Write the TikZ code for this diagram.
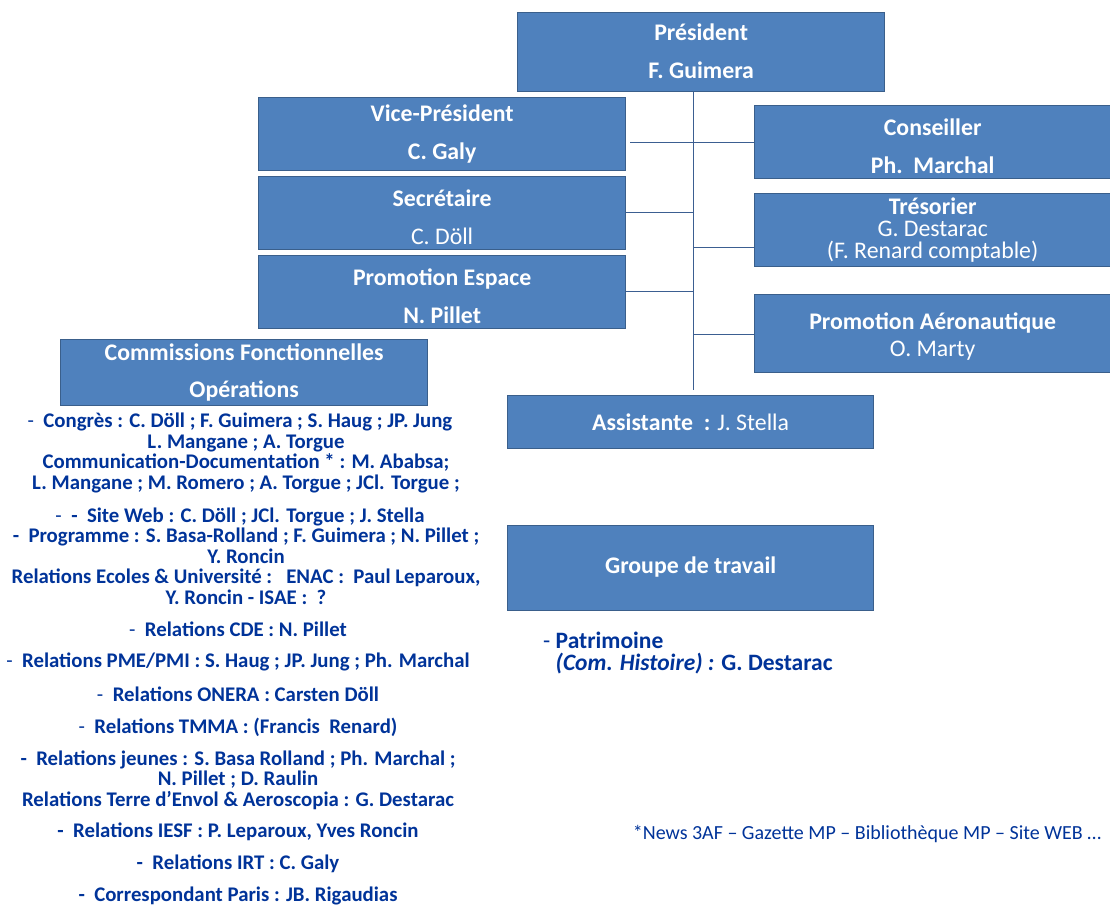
\documentclass[tikz,border=0pt]{standalone}
\usepackage{fontspec}
\setmainfont{Carlito}
\definecolor{boxfill}{HTML}{4F81BD}
\definecolor{boxborder}{HTML}{3A5F8B}
\definecolor{conncol}{HTML}{3B5E91}
\definecolor{txtblue}{HTML}{003399}
\begin{document}
\begin{tikzpicture}[x=1pt,y=-1pt]
\tikzset{
  box/.style={draw=boxborder, line width=1.3pt, fill=boxfill, inner sep=0pt, anchor=north west},
  boxtext/.style={text=white, align=center, inner sep=0pt, font=\fontsize{23.8}{38}\selectfont},
  conn/.style={draw=conncol, line width=1pt},
  listtext/.style={text=txtblue, align=center, inner sep=0pt, font=\fontsize{20.8}{20.5}\selectfont\bfseries},
  foot/.style={text=txtblue, inner sep=0pt, font=\fontsize{20}{21}\selectfont}
}
\useasboundingbox (0,0) rectangle (1110,905);

% boxes
\node[box, minimum width=367pt, minimum height=79pt] (pres) at (517,12) {};
\node[box, minimum width=367pt, minimum height=73pt] (vice) at (258,97) {};
\node[box, minimum width=367pt, minimum height=73pt] (sec) at (258,176) {};
\node[box, minimum width=367pt, minimum height=73pt] (pesp) at (258,255) {};
\node[box, minimum width=356pt, minimum height=73pt] (cons) at (754,105) {};
\node[box, minimum width=356pt, minimum height=73pt] (tres) at (754,193) {};
\node[box, minimum width=356pt, minimum height=78pt] (paero) at (754,294) {};
\node[box, minimum width=367pt, minimum height=66pt] (comm) at (60,339) {};
\node[box, minimum width=366pt, minimum height=53pt] (assist) at (507,395) {};
\node[box, minimum width=366pt, minimum height=85pt] (groupe) at (507,525) {};

% box texts
\node[boxtext] (presT) at ([yshift=1pt]pres.center) {\textbf{Président}\\\textbf{F. Guimera}};
\node[boxtext] (viceT) at (vice.center) {\textbf{Vice-Président}\\\textbf{C. Galy}};
\node[boxtext] (secT) at ([yshift=-4pt]sec.center) {\textbf{Secrétaire}\\C. Döll};
\node[boxtext] (pespT) at ([yshift=-4.5pt]pesp.center) {\textbf{Promotion Espace}\\\textbf{N. Pillet}};
\node[boxtext] (consT) at ([yshift=-4pt]cons.center) {\textbf{Conseiller}\\\textbf{Ph.\ \ Marchal}};
\node[boxtext, font=\fontsize{23.8}{22}\selectfont] (tresT) at (tres.center) {\textbf{Trésorier}\\G. Destarac\\(F. Renard comptable)};
\node[boxtext, font=\fontsize{23.8}{27}\selectfont] (paeroT) at ([yshift=-3pt]paero.center) {\textbf{Promotion Aéronautique}\\O. Marty};
\node[boxtext, font=\fontsize{23.8}{37}\selectfont] (commT) at (comm.center) {\textbf{Commissions Fonctionnelles}\\\textbf{Opérations}};
\node[boxtext] (assistT) at (assist.center) {\textbf{Assistante\ \ :} J. Stella};
\node[boxtext] (groupeT) at ([yshift=1pt]groupe.center) {\textbf{Groupe de travail}};

% connectors
\coordinate (tBot) at (693,390);
\coordinate (vcStart) at (630,142);
\coordinate (jSec) at (693,212);
\coordinate (jPesp) at (693,291);
\coordinate (jTres) at (693,247);
\coordinate (jAero) at (693,334);
\draw[conn] (pres.south -| tBot) -- (tBot);
\draw[conn] (vcStart) -- (vcStart -| cons.west);
\draw[conn] (sec.east |- jSec) -- (jSec);
\draw[conn] (pesp.east |- jPesp) -- (jPesp);
\draw[conn] (jTres) -- (jTres -| tres.west);
\draw[conn] (jAero) -- (jAero -| paero.west);

% left list
\node[listtext] (l1) at (246,453) {{\mdseries -}\ \ Congrès : C. Döll ; F. Guimera ; S. Haug ; JP. Jung\hspace*{12pt}\\L. Mangane ; A. Torgue\\Communication-Documentation * : M. Ababsa;\\L. Mangane ; M. Romero ; A. Torgue ; JCl. Torgue ;};
\node[listtext] (l2) at (246,556) {{\mdseries -}\ \ -\ \ Site Web : C. Döll ; JCl. Torgue ; J. Stella\hspace*{12pt}\\-\ \ Programme : S. Basa-Rolland ; F. Guimera ; N. Pillet ;\\Y. Roncin\\Relations Ecoles \& Université :\ \ \ ENAC :\ \ Paul Leparoux,\\Y. Roncin - ISAE :\ \ ?};
\node[listtext] (l3) at (238,629) {{\mdseries -}\ \ Relations CDE : N. Pillet};
\node[listtext] (l4) at (238,662) {{\mdseries -}\ \ Relations PME/PMI : S. Haug ; JP. Jung ; Ph. Marchal};
\node[listtext] (l5) at (238,694) {{\mdseries -}\ \ Relations ONERA : Carsten Döll};
\node[listtext] (l6) at (238,727) {{\mdseries -}\ \ Relations TMMA : (Francis\ \ Renard)};
\node[listtext] (l7) at (238,780) {-\ \ Relations jeunes : S. Basa Rolland ; Ph. Marchal ;\\N. Pillet ; D. Raulin\\Relations Terre d’Envol \& Aeroscopia : G. Destarac};
\node[listtext] (l8) at (238,832) {-\ \ Relations IESF : P. Leparoux, Yves Roncin};
\node[listtext] (l9) at (238,864) {-\ \ Relations IRT : C. Galy};
\node[listtext] (l10) at (238,896) {-\ \ Correspondant Paris : JB. Rigaudias};

% right texts
\node[listtext, align=left, anchor=west, font=\fontsize{23.5}{22}\selectfont\bfseries] (patr) at (543,653) {{\mdseries -}\ Patrimoine\\\phantom{-\ }\textit{(Com. Histoire) :} G. Destarac};
\node[foot] (note) at (867,834) {*News 3AF – Gazette MP – Bibliothèque MP – Site WEB …};
\end{tikzpicture}
\end{document}
